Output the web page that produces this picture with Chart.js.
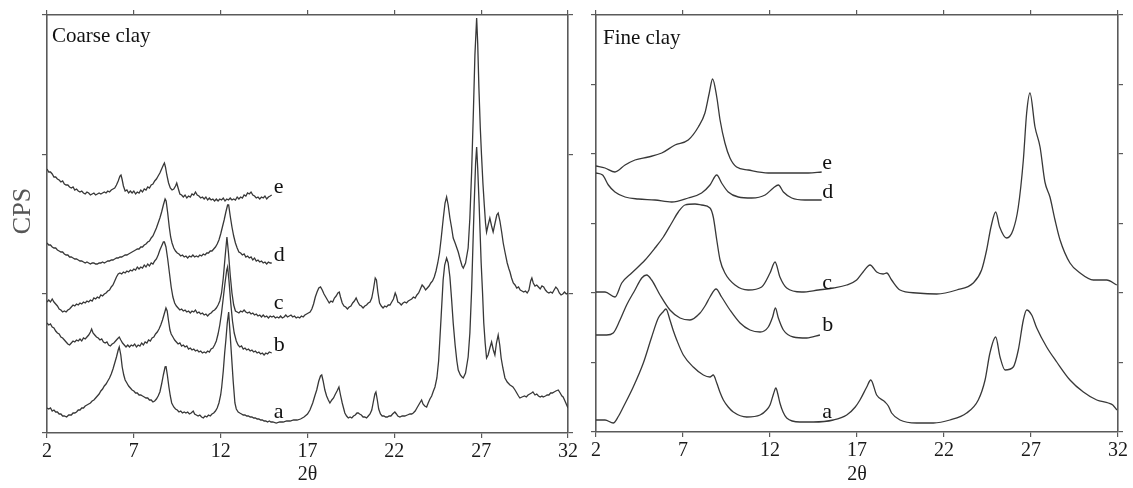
<!DOCTYPE html>
<html>
<head>
<meta charset="utf-8">
<script src="https://cdn.jsdelivr.net/npm/chart.js@4.4.1/dist/chart.umd.min.js"></script>
<style>
  html, body { margin: 0; padding: 0; background: #fff; }
  #wrap { position: relative; width: 1133px; height: 488px; }
  canvas { position: absolute; top: 0; }
</style>
</head>
<body>
<div id="wrap">
  <canvas id="coarse" width="580" height="488" style="left:0"></canvas>
  <canvas id="fine" width="553" height="488" style="left:580px"></canvas>
</div>
<script>
// ── x ticks (2θ) ──
const xTicks = [2, 7, 12, 17, 22, 27, 32];
const curveNames = ['a', 'b', 'c', 'd', 'e'];

// ── Coarse clay: [2θ, CPS] ──
const coarseA = [[2.0,25],[2.1,24],[2.2,25],[2.3,22],[2.4,23],[2.5,21],[2.6,21],[2.7,19],[2.8,19],[2.9,17],[3.0,17],[3.13,16],[3.25,18],[3.4,18],[3.5,20],[3.6,20],[3.7,21],[3.8,23],[3.9,23],[4.0,25],[4.1,25],[4.2,27],[4.3,28],[4.4,29],[4.5,30],[4.6,32],[4.7,33],[4.8,35],[4.9,37],[5.0,39],[5.1,42],[5.2,44],[5.3,47],[5.4,49],[5.5,52],[5.6,55],[5.7,59],[5.8,64],[5.9,70],[6.0,76],[6.1,83],[6.16,86],[6.25,78],[6.33,66],[6.42,58],[6.5,53],[6.6,50],[6.7,47],[6.8,45],[6.9,43],[7.0,42],[7.1,40],[7.2,40],[7.3,38],[7.4,38],[7.5,37],[7.6,36],[7.7,35],[7.8,35],[7.9,33],[8.0,33],[8.1,31],[8.2,32],[8.3,34],[8.4,37],[8.5,41],[8.6,49],[8.7,58],[8.8,66],[8.85,67],[8.93,58],[9.02,46],[9.1,37],[9.18,30],[9.3,26],[9.4,24],[9.5,23],[9.6,21],[9.7,22],[9.8,20],[9.9,21],[10.0,20],[10.1,21],[10.2,19],[10.3,20],[10.42,22],[10.5,19],[10.6,18],[10.7,17],[10.8,18],[10.9,16],[11.0,15],[11.1,17],[11.2,16],[11.3,18],[11.4,17],[11.5,19],[11.6,20],[11.7,22],[11.8,25],[11.9,30],[12.0,38],[12.06,46],[12.15,62],[12.23,80],[12.3,93],[12.38,110],[12.46,121],[12.54,100],[12.63,76],[12.72,52],[12.82,30],[12.9,24],[13.01,21],[13.1,20],[13.2,19],[13.3,18],[13.4,18],[13.5,17],[13.6,17],[13.7,16],[13.8,16],[13.9,15],[14.0,15],[14.1,14],[14.2,14],[14.3,13],[14.4,13],[14.5,12],[14.6,12],[14.7,11],[14.8,12],[14.9,11],[15.0,11],[15.2,10],[15.4,11],[15.6,11],[15.8,12],[16.0,12],[16.2,13],[16.4,13],[16.6,14],[16.8,16],[17.0,19],[17.14,23],[17.3,30],[17.42,37],[17.53,43],[17.65,52],[17.75,57],[17.82,58],[17.9,52],[18.0,43],[18.1,37],[18.2,33],[18.29,30],[18.4,33],[18.5,35],[18.58,38],[18.7,42],[18.81,46],[18.9,38],[19.0,30],[19.06,26],[19.15,20],[19.25,17],[19.35,15],[19.45,16],[19.55,15],[19.65,17],[19.75,18],[19.85,20],[19.92,20],[20.0,19],[20.1,18],[20.2,16],[20.3,16],[20.4,15],[20.5,17],[20.6,19],[20.7,23],[20.8,32],[20.88,39],[20.94,41],[21.02,33],[21.1,24],[21.2,19],[21.3,17],[21.4,17],[21.5,16],[21.6,16],[21.7,17],[21.8,17],[21.9,19],[22.03,21],[22.12,19],[22.2,17],[22.32,16],[22.45,17],[22.6,17],[22.75,18],[22.9,19],[23.0,19],[23.09,20],[23.2,22],[23.3,25],[23.4,28],[23.5,31],[23.57,33],[23.65,29],[23.75,27],[23.86,26],[23.95,30],[24.05,34],[24.15,37],[24.25,42],[24.34,46],[24.45,55],[24.55,72],[24.62,93],[24.7,118],[24.81,153],[24.9,168],[25.01,175],[25.1,170],[25.2,156],[25.3,133],[25.39,110],[25.5,88],[25.6,72],[25.68,63],[25.8,58],[25.9,56],[25.97,55],[26.1,60],[26.25,76],[26.35,100],[26.45,143],[26.53,190],[26.6,230],[26.68,270],[26.74,286],[26.8,265],[26.88,230],[26.94,200],[27.0,170],[27.08,140],[27.15,110],[27.23,90],[27.31,75],[27.4,78],[27.5,85],[27.6,91],[27.7,83],[27.79,78],[27.88,90],[27.98,98],[28.07,88],[28.15,75],[28.25,65],[28.37,55],[28.5,51],[28.66,48],[28.75,47],[28.83,46],[28.95,43],[29.05,40],[29.15,37],[29.23,35],[29.35,36],[29.5,37],[29.6,36],[29.7,38],[29.8,39],[29.9,40],[29.98,41],[30.1,38],[30.2,39],[30.3,37],[30.4,36],[30.5,37],[30.57,36],[30.7,37],[30.8,38],[30.9,38],[31.0,40],[31.1,40],[31.2,41],[31.3,42],[31.44,43],[31.55,40],[31.65,37],[31.72,36],[31.8,33],[31.9,29],[32.0,25]];
const coarseB = [[2.0,110],[2.1,108],[2.2,109],[2.3,106],[2.4,105],[2.5,102],[2.6,100],[2.7,99],[2.8,96],[2.9,95],[3.0,93],[3.1,91],[3.2,89],[3.3,88],[3.4,90],[3.5,92],[3.6,91],[3.7,93],[3.8,92],[3.9,94],[4.0,92],[4.1,95],[4.2,94],[4.3,96],[4.4,98],[4.5,101],[4.57,104],[4.65,100],[4.75,98],[4.85,96],[4.95,95],[5.05,93],[5.15,94],[5.25,91],[5.35,90],[5.45,91],[5.55,88],[5.65,87],[5.75,89],[5.85,90],[5.95,92],[6.05,94],[6.16,96],[6.25,93],[6.35,90],[6.45,88],[6.55,86],[6.65,88],[6.75,86],[6.85,88],[6.95,87],[7.05,89],[7.15,86],[7.25,88],[7.35,87],[7.45,90],[7.55,88],[7.65,91],[7.75,90],[7.85,93],[7.95,92],[8.05,95],[8.15,96],[8.25,99],[8.35,101],[8.45,104],[8.55,108],[8.65,113],[8.75,119],[8.85,125],[8.92,122],[9.0,112],[9.08,103],[9.15,99],[9.25,96],[9.35,93],[9.45,91],[9.55,89],[9.65,90],[9.75,87],[9.85,88],[9.95,86],[10.05,87],[10.15,84],[10.25,85],[10.35,83],[10.45,84],[10.55,82],[10.65,83],[10.75,81],[10.85,82],[10.95,80],[11.05,81],[11.15,80],[11.25,82],[11.35,81],[11.45,84],[11.55,85],[11.65,88],[11.75,92],[11.85,99],[11.95,108],[12.05,120],[12.15,135],[12.25,150],[12.35,163],[12.4,166],[12.48,152],[12.58,130],[12.68,112],[12.78,100],[12.9,92],[13.0,88],[13.1,86],[13.2,87],[13.3,84],[13.4,85],[13.5,83],[13.6,84],[13.7,82],[13.8,83],[13.9,81],[14.0,82],[14.1,80],[14.2,81],[14.3,79],[14.4,80],[14.5,78],[14.6,80],[14.7,79],[14.8,81],[14.94,80]];
const coarseC = [[2.0,131],[2.1,133],[2.2,131],[2.3,134],[2.4,131],[2.5,129],[2.6,127],[2.7,124],[2.8,123],[2.9,121],[3.0,122],[3.1,121],[3.2,123],[3.3,124],[3.4,126],[3.5,128],[3.6,127],[3.7,129],[3.8,128],[3.9,130],[4.0,129],[4.1,131],[4.2,130],[4.3,132],[4.4,131],[4.5,133],[4.6,132],[4.7,135],[4.8,134],[4.9,136],[5.0,135],[5.1,138],[5.2,137],[5.3,139],[5.4,140],[5.5,142],[5.6,143],[5.7,146],[5.8,148],[5.9,152],[6.0,156],[6.1,159],[6.2,160],[6.3,159],[6.4,161],[6.5,160],[6.6,162],[6.7,161],[6.8,163],[6.9,162],[7.0,164],[7.1,163],[7.2,166],[7.3,164],[7.4,166],[7.5,165],[7.6,168],[7.7,166],[7.8,169],[7.9,167],[8.0,170],[8.1,169],[8.2,172],[8.3,174],[8.4,178],[8.5,183],[8.6,187],[8.7,191],[8.76,191],[8.85,186],[8.95,174],[9.05,160],[9.15,146],[9.25,136],[9.35,130],[9.45,127],[9.55,125],[9.65,123],[9.75,124],[9.85,122],[9.95,123],[10.05,121],[10.15,122],[10.25,120],[10.35,122],[10.45,121],[10.55,123],[10.65,120],[10.75,121],[10.85,119],[10.95,120],[11.05,118],[11.15,119],[11.25,117],[11.35,119],[11.45,120],[11.55,122],[11.65,123],[11.75,125],[11.85,128],[11.95,132],[12.05,140],[12.15,155],[12.25,175],[12.36,196],[12.45,180],[12.55,158],[12.65,140],[12.75,128],[12.85,122],[12.95,121],[13.05,120],[13.15,122],[13.25,121],[13.35,123],[13.45,121],[13.55,120],[13.65,121],[13.75,119],[13.85,120],[13.95,118],[14.05,119],[14.15,117],[14.25,118],[14.35,116],[14.45,118],[14.55,116],[14.65,117],[14.75,115],[14.85,117],[14.95,116],[15.05,117],[15.15,115],[15.25,116],[15.35,115],[15.45,117],[15.55,115],[15.65,116],[15.75,118],[15.85,116],[15.95,117],[16.05,118],[16.15,116],[16.25,117],[16.35,115],[16.45,116],[16.55,115],[16.65,117],[16.75,116],[16.85,118],[16.95,119],[17.05,120],[17.15,121],[17.25,124],[17.35,129],[17.45,136],[17.55,141],[17.65,145],[17.75,146],[17.85,143],[17.95,139],[18.05,136],[18.15,133],[18.25,130],[18.35,132],[18.45,131],[18.55,135],[18.65,137],[18.75,140],[18.83,141],[18.9,136],[19.0,130],[19.1,127],[19.2,126],[19.3,124],[19.4,126],[19.5,127],[19.6,130],[19.7,132],[19.8,135],[19.9,131],[20.0,128],[20.1,127],[20.2,125],[20.3,127],[20.4,128],[20.5,130],[20.6,131],[20.7,135],[20.8,144],[20.9,155],[20.97,153],[21.05,141],[21.15,130],[21.25,127],[21.35,125],[21.45,127],[21.55,126],[21.65,128],[21.75,128],[21.85,131],[21.95,134],[22.05,140],[22.12,137],[22.2,131],[22.3,130],[22.4,128],[22.5,130],[22.6,131],[22.7,130],[22.8,132],[22.9,133],[23.0,134],[23.1,136],[23.2,135],[23.3,138],[23.4,140],[23.5,144],[23.6,148],[23.7,146],[23.8,143],[23.9,145],[24.0,147],[24.1,150],[24.2,152],[24.3,156],[24.4,162],[24.5,170],[24.6,180],[24.7,195],[24.82,215],[24.92,230],[25.01,236],[25.1,228],[25.2,215],[25.3,205],[25.39,195],[25.5,190],[25.6,185],[25.68,181],[25.8,173],[25.9,167],[25.97,165],[26.1,170],[26.25,185],[26.35,215],[26.45,261],[26.55,320],[26.64,378],[26.74,415],[26.8,390],[26.87,345],[26.95,305],[27.02,278],[27.1,250],[27.18,228],[27.25,210],[27.31,201],[27.4,208],[27.5,215],[27.6,207],[27.69,201],[27.8,210],[27.9,218],[27.98,220],[28.08,212],[28.18,201],[28.27,190],[28.37,181],[28.5,170],[28.6,164],[28.66,161],[28.75,155],[28.85,150],[28.95,148],[29.05,145],[29.15,146],[29.25,143],[29.35,142],[29.45,141],[29.55,142],[29.65,140],[29.75,143],[29.85,152],[29.92,155],[30.0,150],[30.1,147],[30.2,148],[30.3,146],[30.4,144],[30.5,147],[30.6,146],[30.7,143],[30.8,141],[30.9,140],[31.0,141],[31.1,140],[31.2,143],[31.3,146],[31.4,144],[31.5,140],[31.6,138],[31.7,139],[31.8,141],[31.9,139],[32.0,140]];
const coarseD = [[2.0,190],[2.1,188],[2.2,188],[2.3,186],[2.4,185],[2.5,185],[2.6,183],[2.7,182],[2.8,181],[2.9,181],[3.0,179],[3.1,178],[3.2,178],[3.3,176],[3.4,176],[3.5,175],[3.6,174],[3.7,174],[3.8,173],[3.9,172],[4.0,172],[4.1,171],[4.2,170],[4.3,171],[4.4,170],[4.5,169],[4.6,170],[4.7,170],[4.8,169],[4.9,169],[5.0,170],[5.1,170],[5.2,171],[5.3,170],[5.4,171],[5.5,172],[5.6,172],[5.7,173],[5.8,173],[5.9,174],[6.0,175],[6.1,175],[6.2,176],[6.3,176],[6.4,177],[6.5,178],[6.6,178],[6.7,179],[6.8,180],[6.9,181],[7.0,182],[7.1,183],[7.2,184],[7.3,184],[7.4,186],[7.5,186],[7.6,188],[7.7,189],[7.8,191],[7.9,192],[8.0,195],[8.1,197],[8.2,201],[8.3,205],[8.4,210],[8.5,215],[8.6,221],[8.7,228],[8.8,234],[8.86,232],[8.95,220],[9.04,206],[9.12,196],[9.2,190],[9.3,185],[9.4,182],[9.5,180],[9.6,179],[9.7,177],[9.8,178],[9.9,176],[10.0,177],[10.1,175],[10.2,177],[10.3,176],[10.4,178],[10.5,176],[10.6,177],[10.7,176],[10.8,178],[10.9,177],[11.0,179],[11.1,178],[11.2,180],[11.3,180],[11.4,182],[11.5,182],[11.6,184],[11.7,186],[11.8,189],[11.9,193],[12.0,199],[12.1,206],[12.2,213],[12.3,221],[12.4,228],[12.46,228],[12.55,217],[12.65,206],[12.75,197],[12.85,190],[12.95,185],[13.05,181],[13.15,180],[13.25,178],[13.35,179],[13.45,176],[13.55,177],[13.65,175],[13.75,176],[13.85,173],[13.95,175],[14.05,172],[14.15,173],[14.25,171],[14.35,172],[14.45,170],[14.55,171],[14.65,169],[14.75,171],[14.85,170],[14.94,170]];
const coarseE = [[2.0,264],[2.1,261],[2.2,261],[2.3,259],[2.4,256],[2.5,256],[2.6,254],[2.7,253],[2.8,251],[2.9,252],[3.0,249],[3.1,248],[3.2,248],[3.3,246],[3.4,245],[3.5,246],[3.6,243],[3.7,244],[3.8,242],[3.9,241],[4.0,242],[4.1,240],[4.2,239],[4.3,241],[4.4,240],[4.5,238],[4.6,239],[4.7,240],[4.8,238],[4.9,239],[5.0,240],[5.1,239],[5.2,240],[5.3,241],[5.4,240],[5.5,242],[5.6,241],[5.7,243],[5.8,244],[5.9,245],[6.0,248],[6.1,252],[6.2,257],[6.26,258],[6.32,254],[6.4,247],[6.5,242],[6.6,243],[6.7,240],[6.8,242],[6.9,240],[7.0,242],[7.1,239],[7.2,241],[7.3,240],[7.4,243],[7.5,241],[7.6,244],[7.7,243],[7.8,246],[7.9,245],[8.0,248],[8.1,249],[8.2,252],[8.3,254],[8.4,257],[8.5,260],[8.6,264],[8.7,268],[8.76,270],[8.82,266],[8.9,258],[9.0,250],[9.1,245],[9.2,243],[9.3,244],[9.4,247],[9.47,250],[9.55,245],[9.65,239],[9.75,238],[9.85,236],[9.95,238],[10.05,235],[10.15,237],[10.25,236],[10.35,239],[10.45,238],[10.55,241],[10.65,238],[10.75,237],[10.85,235],[10.95,236],[11.05,234],[11.15,236],[11.25,233],[11.35,235],[11.45,233],[11.55,234],[11.65,232],[11.75,234],[11.85,232],[11.95,234],[12.05,233],[12.15,235],[12.25,232],[12.35,234],[12.45,233],[12.55,235],[12.65,233],[12.75,234],[12.85,233],[12.95,236],[13.05,234],[13.15,236],[13.25,235],[13.35,238],[13.45,237],[13.55,240],[13.65,239],[13.75,241],[13.85,238],[13.95,237],[14.05,235],[14.15,236],[14.25,234],[14.35,236],[14.45,235],[14.55,237],[14.65,234],[14.75,236],[14.85,237],[14.94,238]];
const coarseLabelY = [21, 88, 130, 178, 246];

// ── Fine clay: [2θ, CPS] ──
const fineA = [[2.0,12],[2.52,12],[2.99,9],[3.3,16],[3.57,25],[4.14,45],[4.72,69],[5.2,95],[5.58,114],[5.85,120],[6.02,123],[6.25,112],[6.45,101],[6.64,92],[7.02,77],[7.59,65],[8.17,57],[8.55,55],[8.74,57],[8.94,49],[9.12,40],[9.32,32],[9.6,25],[9.89,20],[10.66,15],[11.43,17],[11.8,22],[12.0,27],[12.2,38],[12.34,44],[12.45,38],[12.57,29],[12.75,20],[12.96,14],[13.72,10],[14.49,10],[15.64,12],[16.41,17],[16.9,25],[17.17,32],[17.56,45],[17.79,52],[18.13,37],[18.61,30],[18.8,26],[18.99,19],[19.47,12],[20.43,9],[21.39,9],[22.34,12],[23.3,19],[23.97,32],[24.36,52],[24.64,79],[24.97,95],[25.22,75],[25.51,62],[25.98,65],[26.27,82],[26.56,112],[26.75,122],[27.04,117],[27.33,104],[27.9,85],[28.48,70],[29.24,52],[30.01,40],[30.78,32],[31.45,29],[31.7,27],[31.93,22]];
const fineB = [[2.0,97],[2.61,97],[2.99,99],[3.38,112],[3.76,127],[4.24,142],[4.63,154],[4.91,157],[5.2,152],[5.68,137],[6.25,122],[6.83,114],[7.4,112],[7.98,119],[8.3,127],[8.55,135],[8.9,143],[9.22,135],[9.7,122],[10.28,109],[10.85,102],[11.43,100],[11.9,105],[12.15,115],[12.31,124],[12.48,114],[12.77,102],[13.34,95],[14.11,94],[14.87,97]];
const fineC = [[2.0,140],[2.52,140],[3.09,135],[3.48,149],[4.05,159],[4.82,172],[5.39,184],[5.87,195],[6.35,209],[6.73,220],[7.11,227],[7.69,228],[8.07,227],[8.55,224],[8.74,215],[8.94,192],[9.13,172],[9.41,159],[9.99,147],[10.75,142],[11.52,145],[12.0,159],[12.29,170],[12.57,155],[12.96,144],[13.82,140],[14.78,142],[15.64,144],[16.41,147],[16.98,152],[17.35,160],[17.75,167],[18.13,160],[18.5,158],[18.71,159],[18.99,152],[19.47,142],[20.43,139],[21.58,138],[22.73,142],[23.68,149],[24.16,162],[24.45,182],[24.7,205],[24.97,220],[25.2,205],[25.6,194],[25.97,202],[26.27,225],[26.56,272],[26.75,319],[26.94,339],[27.23,305],[27.52,285],[27.8,250],[28.09,235],[28.38,212],[28.67,192],[29.24,169],[29.82,159],[30.58,152],[31.35,152],[31.93,147]];
const fineD = [[2.0,259],[2.38,257],[2.71,247],[3.09,240],[3.67,235],[4.43,233],[5.39,232],[6.35,230],[7.3,234],[8.07,239],[8.55,247],[8.94,257],[9.22,249],[9.6,240],[10.18,235],[10.95,234],[11.72,237],[12.19,244],[12.48,247],[12.77,240],[13.25,234],[14.01,232],[14.97,232]];
const fineE = [[2.0,266],[2.52,264],[3.09,260],[3.67,267],[4.24,272],[5.01,275],[5.78,279],[6.54,287],[7.3,292],[7.88,305],[8.26,319],[8.51,339],[8.7,353],[8.94,335],[9.13,312],[9.41,289],[9.7,274],[10.08,265],[10.75,262],[11.9,259],[13.05,259],[14.2,259],[14.97,260]];
const fineLabelY = [20, 107, 149, 240, 269];

const SERIF = '"Liberation Serif", "Times New Roman", serif';
const AXIS_COLOR = '#5a5a5a';
const LINE_COLOR = '#383838';

function axis(position, min, max, step, size, showLabels) {
  return {
    type: 'linear',
    position: position,
    min: min,
    max: max,
    ticks: {
      stepSize: step,
      display: showLabels,
      autoSkip: false,
      maxRotation: 0,
      padding: 2,
      color: '#1a1a1a',
      font: { family: SERIF, size: 20 }
    },
    grid: { drawOnChartArea: false, drawTicks: true, tickLength: 5, color: AXIS_COLOR, lineWidth: 1.2 },
    border: { display: true, color: AXIS_COLOR, width: 1.6 },
    afterFit: s => {
      if (s.isHorizontal()) s.height = size; else s.width = size;
    }
  };
}

function textPlugin(p) {
  return {
    id: 'panelText',
    afterDatasetsDraw(chart) {
      const { ctx, chartArea, scales } = chart;
      ctx.save();
      ctx.fillStyle = '#111';
      ctx.textAlign = 'left';
      ctx.textBaseline = 'alphabetic';
      ctx.font = '21px ' + SERIF;
      ctx.fillText(p.title, chartArea.left + p.titleDx, p.titleY);
      ctx.font = '22px ' + SERIF;
      ctx.textBaseline = 'middle';
      curveNames.forEach((n, i) => {
        ctx.fillText(n, scales.x.getPixelForValue(p.labelX), scales.y.getPixelForValue(p.labelY[i]));
      });
      if (p.yTitle) {
        ctx.translate(23, 211);
        ctx.rotate(-Math.PI / 2);
        ctx.textAlign = 'center';
        ctx.fillStyle = '#555';
        ctx.font = '26px ' + SERIF;
        ctx.fillText(p.yTitle, 0, 0);
      }
      ctx.restore();
    }
  };
}

function makePanel(id, curves, yMax, ySteps, sizes, p) {
  const xAxis = axis('bottom', xTicks[0], xTicks[xTicks.length - 1], 5, sizes.bottom, true);
  xAxis.title = { display: true, text: '2θ', color: '#1a1a1a', font: { family: SERIF, size: 20 }, padding: { top: 0, bottom: 1 } };
  new Chart(document.getElementById(id), {
    type: 'line',
    data: {
      datasets: curves.map((c, i) => ({
        label: curveNames[i],
        data: c.map(([x, y]) => ({ x, y })),
        borderColor: LINE_COLOR,
        borderWidth: 1.3,
        pointRadius: 0,
        tension: 0,
        cubicInterpolationMode: p.smooth ? 'monotone' : 'default',
        fill: false
      }))
    },
    options: {
      responsive: false,
      animation: false,
      layout: { padding: 0 },
      plugins: { legend: { display: false }, tooltip: { enabled: false } },
      scales: {
        x: xAxis,
        x2: axis('top', xTicks[0], xTicks[xTicks.length - 1], 5, sizes.top, false),
        y: axis('left', 0, yMax, yMax / ySteps, sizes.left, false),
        y2: axis('right', 0, yMax, yMax / ySteps, sizes.right, false)
      }
    },
    plugins: [textPlugin(p)]
  });
}

makePanel('coarse', [coarseA, coarseB, coarseC, coarseD, coarseE], 418, 3,
  { bottom: 55, top: 15, left: 47, right: 12 },
  { title: 'Coarse clay', titleDx: 5, titleY: 42, labelX: 15.05, labelY: coarseLabelY, yTitle: 'CPS', smooth: false });

makePanel('fine', [fineA, fineB, fineC, fineD, fineE], 417, 6,
  { bottom: 56, top: 15, left: 16, right: 15 },
  { title: 'Fine clay', titleDx: 7, titleY: 44, labelX: 15.0, labelY: fineLabelY, smooth: true });
</script>
</body>
</html>
